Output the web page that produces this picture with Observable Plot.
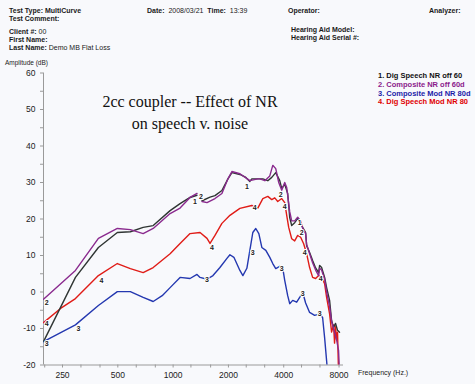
<!DOCTYPE html>
<html><head><meta charset="utf-8">
<script src="https://cdn.jsdelivr.net/npm/d3@7"></script>
<script src="https://cdn.jsdelivr.net/npm/@observablehq/plot@0.6"></script>
<style>
body{margin:0;background:#f8f9fc;}
#wrap{position:relative;width:475px;height:384px;overflow:hidden;font-family:"Liberation Sans",Arial,sans-serif;background:#f8f9fc;}
#chart{position:absolute;left:0;top:0;}
.t{position:absolute;font-size:7px;color:#1a1a1a;white-space:nowrap;line-height:8px;}
.b{font-weight:bold;}
#title{position:absolute;left:90px;width:200px;top:91px;text-align:center;font-family:"Liberation Serif","Times New Roman",serif;font-size:16px;line-height:22px;color:#111;}
.lg{position:absolute;left:378px;font-size:7.5px;font-weight:bold;line-height:9px;white-space:nowrap;}
</style></head>
<body>
<div id="wrap">
<div id="chart"></div>
<div class="t b" style="left:9px;top:7px">Test Type: MultiCurve</div>
<div class="t b" style="left:9px;top:15px">Test Comment:</div>
<div class="t b" style="left:9px;top:28px">Client #: <span style="font-weight:normal">00</span></div>
<div class="t b" style="left:9px;top:36px">First Name:</div>
<div class="t b" style="left:9px;top:44px">Last Name: <span style="font-weight:normal">Demo MB Flat Loss</span></div>
<div class="t b" style="left:147px;top:7px">Date: <span style="font-weight:normal">&nbsp;2008/03/21</span>&nbsp; Time: <span style="font-weight:normal">&nbsp;13:39</span></div>
<div class="t b" style="left:288px;top:7px">Operator:</div>
<div class="t b" style="left:429px;top:7px">Analyzer:</div>
<div class="t b" style="left:291px;top:26px">Hearing Aid Model:</div>
<div class="t b" style="left:291px;top:34px">Hearing Aid Serial #:</div>
<div class="t" style="left:5px;top:59px;font-size:6.5px">Amplitude (dB)</div>
<div class="t" style="left:358px;top:369px;font-size:7px">Frequency (Hz.)</div>
<div id="title">2cc coupler -- Effect of NR<br>on speech v. noise</div>
<div id="legend"></div>
</div>
<script>
const seriesNames = ["1. Dig Speech NR off 60","2. Composite NR off 60d","3. Composite Mod NR 80d","4. Dig Speech Mod NR 80"];
const seriesColors = ["#2f3533","#8a2a8e","#2438b0","#e01c17"];
const legendColors = ["#111111","#8b1a8b","#1c1ca8","#e00000"];

const freqTicks = [200,250,315,400,500,630,800,1000,1250,1600,2000,2500,3150,4000,5000,6300,8000];
const freqLabels = [250,500,1000,2000,4000,8000];
const ampTicks = d3.range(-20, 61, 5);

// [frequency Hz, amplitude dB]; NaN marks a break in the trace
const s1 = [[197,-13.6],[294,4],[392,12.2],[497,16.3],[585,16.5],[687,17.7],[779,18.2],[963,22.3],[1091,24.2],[1236,25.9],[1349,26.5],[1390,NaN],
 [1437,25],[1588,26],[1690,26.4],[1843,27.8],[1988,31],[2089,32.7],[2309,32.2],[2488,31.4],[2616,30.3],[2681,31],[2891,31],[3078,31],[3276,30.5],[3443,31.4],[3619,32.7],[3805,30.5],[3901,28.4],[4050,29.5],[4204,27],
 [4311,20.4],[4420,18.2],[4589,19],[4764,20.1],[4945,19],[5070,17.7],[5263,16.3],[5329,12.7],[5533,10.8],[5745,8.6],[5965,6.6],[6194,5.3],[6272,7.3],[6430,6.7],[6677,4],[6846,1.2],[7107,-2.3],[7286,-7.8],[7470,-9.7],[7658,-8.6],[7851,-10.5],[8050,-11]];
const s2 = [[197,-2],[294,5.9],[392,14.7],[497,17.4],[585,17.1],[687,16],[779,17.4],[963,21.5],[1091,23],[1236,25.9],[1349,27],[1390,NaN],
 [1437,24.8],[1529,24.5],[1690,25.6],[1843,27],[1988,31],[2089,33],[2309,32.4],[2616,30.5],[2891,31],[2964,31],[3156,30.5],[3359,31.8],[3486,34.7],[3619,33.8],[3757,30],[3901,27.9],[4050,30],[4152,28.6],
 [4311,22],[4420,19.5],[4589,19.5],[4764,20.5],[4945,19.5],[5070,17.5],[5263,16],[5329,13],[5533,10.5],[5745,8],[5965,6],[6194,4.5],[6272,6.5],[6430,6],[6677,3.5],[6846,0],[7107,-4],[7286,-8],[7470,-10],[7563,-11],[7754,-13],[7950,-16],[8050,-22]];
const s3 = [[197,-13.6],[294,-9],[392,-3.7],[497,0.1],[585,0.1],[687,-1.5],[779,-2.6],[872,-1],[963,1.2],[1091,4],[1236,3.7],[1349,4.8],[1401,4],[1529,3.5],[1648,4.5],[1798,6.7],[1963,9.2],[2038,10.2],[2142,9.5],[2309,5.9],[2397,4.5],[2520,6.5],[2616,11.4],[2715,16.3],[2818,17.4],[2928,16],[3040,12.2],[3196,11.4],[3359,9.5],[3486,7.8],[3619,6.4],[3805,7],[3950,6.6],
 [4050,3.2],[4204,-1],[4311,-3.2],[4476,-2.3],[4705,-2.8],[4884,-1.5],[5070,0],[5263,-3],[5533,-5.6],[5891,-6.4],[6272,-6],[6511,-7],[6677,-12.5],[6932,-22]];
const s4 = [[197,-8.4],[244,-4.5],[294,-1.8],[392,4.5],[497,7.8],[585,6.4],[687,5.3],[779,6.7],[963,10.5],[1091,13.3],[1236,16],[1401,16.3],[1529,14.7],[1588,13.3],[1690,15.5],[1843,18.8],[2038,21],[2309,22.9],[2681,23.7],[2749,23.5],[2891,23],[3078,25.6],[3276,26.2],[3443,25.3],[3574,25.8],[3711,24.8],[3901,25.6],[4050,24.5],[4152,21],
 [4257,17.7],[4420,14.6],[4589,14],[4764,15.5],[4945,15],[5134,13.2],[5329,10.5],[5533,6.7],[5745,4],[5965,3.7],[6194,4.5],[6430,4],[6677,2.3],[6846,-1.5],[7107,-6],[7286,-11],[7470,-9],[7563,-14],[7658,-9.5],[7754,-13],[7851,-11],[7950,-22]];

// curve number markers: [series number, frequency, amplitude]
const markers = [["2",205,-2.9],["4",205,-8.6],["3",205,-14.1],["3",305,-10],["4",407,3.2],
 ["1",1316,24.8],["2",1419,26.2],["4",1628,12.2],["3",1529,3.4],["1",2520,28.9],["4",2784,23.2],["3",2715,10.8],
 ["2",3853,26.7],["4",4050,23.4],["3",3901,6.4],["1",4884,19],["2",5007,16.3],["4",5196,10.8],["3",5070,-0.4],
 ["4",6350,3.7],["3",6272,-5.9]];

const toRows = (arr, s) => arr.map(([f, v]) => ({s, f, v}));
const all = [s1, s2, s3, s4];
const drawOrder = [2, 3, 0, 1];

const plot = Plot.plot({
  width: 475, height: 384,
  marginLeft: 43, marginRight: 132, marginTop: 72.5, marginBottom: 19.5,
  style: {background: "transparent", fontFamily: "Liberation Sans, Arial, sans-serif"},
  x: {type: "log", domain: [197, 8460]},
  y: {domain: [-20, 60]},
  marks: [
    Plot.ruleY([-20], {stroke: "#9a9a9a"}),
    Plot.ruleX([197], {stroke: "#9a9a9a"}),
    Plot.axisY({ticks: ampTicks, tickFormat: d => d % 10 === 0 ? String(d) : "", tickSize: 3, tickPadding: 5, fontSize: 8.5, stroke: "#9a9a9a", fill: "#222", label: null}),
    Plot.axisX({ticks: freqTicks, tickFormat: () => "", tickSize: 3, stroke: "#9a9a9a", label: null}),
    Plot.text(freqLabels, {x: d => d, y: -20, dy: 7, lineAnchor: "top", text: d => String(d), fontSize: 8.5, fill: "#222"}),
    ...drawOrder.map(i => Plot.line(toRows(all[i], i), {x: "f", y: "v", stroke: seriesColors[i], strokeWidth: 1.4, clip: true})),
    Plot.text(markers, {x: d => d[1], y: d => d[2], text: d => d[0], fontSize: 7, fontWeight: "bold", fill: "#222", stroke: "white", strokeWidth: 2})
  ]
});
document.getElementById("chart").appendChild(plot);

const lg = document.getElementById("legend");
seriesNames.forEach((n, i) => {
  const d = document.createElement("div");
  d.className = "lg";
  d.style.top = (71 + i * 8.8) + "px";
  d.style.color = legendColors[i];
  d.textContent = n;
  lg.appendChild(d);
});
</script>
</body></html>
